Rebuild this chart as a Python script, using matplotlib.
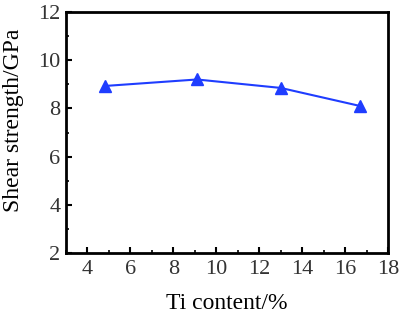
import matplotlib.pyplot as plt
from matplotlib.ticker import MultipleLocator

ti_content = [4.8, 9.1, 13.0, 16.7]
shear_strength = [8.93, 9.2, 8.85, 8.1]

plt.rcParams['font.family'] = 'Liberation Serif'

fig = plt.figure(figsize=(4.09, 3.24), dpi=100)
ax = fig.add_axes([66 / 409, 1 - 253 / 324, (388 - 66) / 409, (253 - 12) / 324])

ax.plot(ti_content, shear_strength, color='#1f3dff', lw=1.5, marker='^', markersize=8)

ax.set_xlim(3, 18)
ax.set_ylim(2, 12)
ax.xaxis.set_major_locator(MultipleLocator(2))
ax.xaxis.set_minor_locator(MultipleLocator(1))
ax.yaxis.set_major_locator(MultipleLocator(2))
ax.yaxis.set_minor_locator(MultipleLocator(1))
ax.tick_params(which='both', direction='in', labelsize=16, colors='black', labelcolor='#333333')
ax.tick_params(which='major', length=4, width=1.5)
ax.tick_params(which='minor', length=2, width=1.2)
ax.tick_params(axis='x', pad=5)
ax.tick_params(axis='y', pad=4)
for s in ax.spines.values():
    s.set_linewidth(2)

ax.set_xlabel('Ti content/%', fontsize=17, labelpad=10)
ax.set_ylabel('Shear strength/GPa', fontsize=17)
ax.yaxis.set_label_coords(-0.13, 0.55)

fig.savefig('out.png', dpi=100)
